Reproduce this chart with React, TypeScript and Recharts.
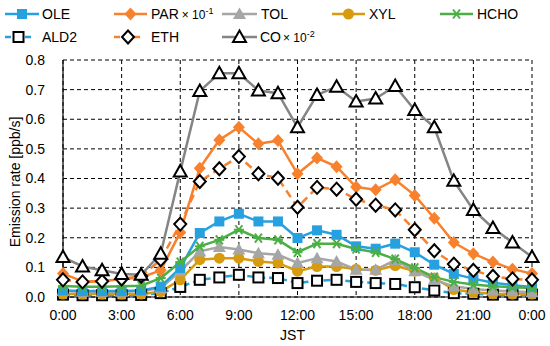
import { CartesianGrid, Line, LineChart, XAxis, YAxis } from "recharts";

// hour of day (JST), 24 = midnight of the next day
const HOURS = [0, 1, 2, 3, 4, 5, 6, 7, 8, 9, 10, 11, 12, 13, 14, 15, 16, 17, 18, 19, 20, 21, 22, 23, 24];
const X_TICKS = [0, 3, 6, 9, 12, 15, 18, 21, 24];
const Y_TICKS = [0, 0.1, 0.2, 0.3, 0.4, 0.5, 0.6, 0.7, 0.8];

// emission rates [ppb/s]; PAR is scaled by 1e-1, CO by 1e-2
const OLE = [0.022, 0.02, 0.02, 0.02, 0.022, 0.035, 0.098, 0.216, 0.255, 0.281, 0.255, 0.255, 0.199, 0.225, 0.21, 0.171, 0.163, 0.18, 0.151, 0.109, 0.078, 0.062, 0.048, 0.04, 0.034];
const PAR = [0.079, 0.053, 0.053, 0.061, 0.066, 0.09, 0.218, 0.435, 0.53, 0.573, 0.517, 0.528, 0.416, 0.469, 0.44, 0.371, 0.362, 0.396, 0.343, 0.266, 0.184, 0.146, 0.118, 0.094, 0.079];
const TOL = [0.02, 0.018, 0.018, 0.018, 0.02, 0.03, 0.087, 0.154, 0.169, 0.16, 0.148, 0.143, 0.115, 0.131, 0.12, 0.092, 0.092, 0.124, 0.087, 0.058, 0.036, 0.027, 0.022, 0.019, 0.016];
const XYL = [0.01, 0.01, 0.01, 0.01, 0.01, 0.018, 0.058, 0.126, 0.131, 0.131, 0.12, 0.115, 0.087, 0.103, 0.103, 0.094, 0.09, 0.106, 0.087, 0.064, 0.025, 0.016, 0.011, 0.01, 0.01];
const HCHO = [0.037, 0.035, 0.035, 0.036, 0.038, 0.064, 0.118, 0.171, 0.193, 0.227, 0.199, 0.193, 0.151, 0.18, 0.18, 0.162, 0.151, 0.128, 0.098, 0.067, 0.051, 0.042, 0.036, 0.033, 0.03];
const ALD2 = [0.008, 0.006, 0.006, 0.006, 0.007, 0.013, 0.034, 0.058, 0.066, 0.075, 0.066, 0.064, 0.047, 0.055, 0.058, 0.051, 0.047, 0.044, 0.033, 0.022, 0.013, 0.011, 0.008, 0.008, 0.008];
const ETH = [0.058, 0.051, 0.053, 0.061, 0.07, 0.126, 0.246, 0.39, 0.433, 0.474, 0.416, 0.401, 0.303, 0.37, 0.364, 0.33, 0.31, 0.294, 0.227, 0.156, 0.111, 0.09, 0.07, 0.061, 0.058];
const CO = [0.135, 0.103, 0.09, 0.078, 0.075, 0.146, 0.424, 0.695, 0.755, 0.755, 0.697, 0.688, 0.573, 0.682, 0.71, 0.66, 0.67, 0.712, 0.631, 0.573, 0.392, 0.294, 0.233, 0.184, 0.135];

const BLUE = "#27a0df";
const ORANGE = "#f7812c";
const GRAY = "#a6a6a6";
const GOLD = "#d69b0e";
const GREEN = "#4caf45";
const DARK_GRAY = "#858585";
const FONT = '"Liberation Sans", Arial, sans-serif';

type Shape = "square" | "diamond" | "triangle" | "circle" | "star";

interface Series {
  key: string;
  values: number[];
  color: string;
  dash?: string;
  shape: Shape;
  fill: string;
  stroke: string;
}

// draw order (later = on top)
const SERIES: Series[] = [
  { key: "ALD2", values: ALD2, color: BLUE, dash: "7 4", shape: "square", fill: "#fff", stroke: "#000" },
  { key: "XYL", values: XYL, color: GOLD, shape: "circle", fill: GOLD, stroke: "none" },
  { key: "TOL", values: TOL, color: GRAY, shape: "triangle", fill: GRAY, stroke: "none" },
  { key: "OLE", values: OLE, color: BLUE, shape: "square", fill: BLUE, stroke: "none" },
  { key: "HCHO", values: HCHO, color: GREEN, shape: "star", fill: GREEN, stroke: GREEN },
  { key: "PAR", values: PAR, color: ORANGE, shape: "diamond", fill: ORANGE, stroke: "none" },
  { key: "ETH", values: ETH, color: ORANGE, dash: "8 5", shape: "diamond", fill: "#fff", stroke: "#000" },
  { key: "CO", values: CO, color: DARK_GRAY, shape: "triangle", fill: "#fff", stroke: "#000" },
];

const data = HOURS.map((h, i) => {
  const row: Record<string, number> = { h };
  SERIES.forEach((s) => (row[s.key] = s.values[i]));
  return row;
});

function Marker({ shape, cx, cy, fill, stroke }: { shape: Shape; cx: number; cy: number; fill: string; stroke: string }) {
  const sw = stroke === "none" ? 0 : 2;
  switch (shape) {
    case "square":
      return <rect x={cx - 5} y={cy - 5} width={10} height={10} fill={fill} stroke={stroke} strokeWidth={sw} />;
    case "diamond":
      return (
        <polygon
          points={`${cx},${cy - 6.5} ${cx + 6},${cy} ${cx},${cy + 6.5} ${cx - 6},${cy}`}
          fill={fill}
          stroke={stroke}
          strokeWidth={sw}
        />
      );
    case "triangle":
      return (
        <polygon
          points={`${cx},${cy - 6.5} ${cx + 6.5},${cy + 5} ${cx - 6.5},${cy + 5}`}
          fill={fill}
          stroke={stroke}
          strokeWidth={sw}
        />
      );
    case "circle":
      return <circle cx={cx} cy={cy} r={5.5} fill={fill} />;
    case "star":
      return (
        <g stroke={stroke} strokeWidth={2}>
          <line x1={cx - 5} y1={cy} x2={cx + 5} y2={cy} />
          <line x1={cx - 3.5} y1={cy - 4.5} x2={cx + 3.5} y2={cy + 4.5} />
          <line x1={cx - 3.5} y1={cy + 4.5} x2={cx + 3.5} y2={cy - 4.5} />
        </g>
      );
  }
}

// legend entries: [series key, row y, line start, line end, label x]
const LEGEND: [string, number, number, number, number][] = [
  ["OLE", 14, 5, 39, 42],
  ["PAR", 14, 114, 147, 151],
  ["TOL", 14, 222, 257, 261],
  ["XYL", 14, 332, 365, 369],
  ["HCHO", 14, 440, 473, 477],
  ["ALD2", 37, 5, 32, 42],
  ["ETH", 37, 114, 142, 151],
  ["CO", 37, 222, 257, 260],
];

function Legend() {
  return (
    <svg width={550} height={50} style={{ position: "absolute", left: 0, top: 0 }} fontFamily={FONT}>
      {LEGEND.map(([key, y, x1, x2, tx]) => {
        const s = SERIES.find((d) => d.key === key)!;
        return (
          <g key={key}>
            <line x1={x1} y1={y} x2={x2} y2={y} stroke={s.color} strokeWidth={2.5} strokeDasharray={s.dash ? "6 4" : undefined} />
            <Marker shape={s.shape} cx={(x1 + x2) / 2} cy={y} fill={s.fill} stroke={s.stroke} />
            <text x={tx} y={y + 5} fontSize={14} fill="#000">
              {key}
              {key === "PAR" && (
                <>
                  <tspan fontSize={12} dx={3}>× 10</tspan>
                  <tspan fontSize={9} dy={-5}>-1</tspan>
                </>
              )}
              {key === "CO" && (
                <>
                  <tspan fontSize={12} dx={2}>× 10</tspan>
                  <tspan fontSize={9} dy={-5}>-2</tspan>
                </>
              )}
            </text>
          </g>
        );
      })}
    </svg>
  );
}

const tick = { fontSize: 14, fill: "#000", fontFamily: FONT };

export default function App() {
  return (
    <div style={{ position: "absolute", left: 0, top: 0, width: 550, height: 346, background: "#fff" }}>
      <LineChart width={550} height={346} data={data} margin={{ top: 60, right: 18, left: 0, bottom: 0 }}>
        <CartesianGrid stroke="#000" strokeDasharray="4 3" strokeWidth={1} />
        <XAxis
          dataKey="h"
          type="number"
          domain={[0, 24]}
          ticks={X_TICKS}
          tickFormatter={(h: number) => `${h % 24}:00`}
          tick={tick}
          tickLine={false}
          tickSize={0}
          tickMargin={13}
          axisLine={{ stroke: "#000", strokeWidth: 1.2 }}
          height={49}
          label={{ value: "JST", position: "insideBottom", offset: 6, dx: -5, style: { fontSize: 14, fill: "#000", fontFamily: FONT } }}
        />
        <XAxis xAxisId="top" orientation="top" type="number" domain={[0, 24]} height={0} tick={false} tickLine={false} axisLine={{ stroke: "#000", strokeWidth: 1.2 }} />
        <YAxis
          type="number"
          domain={[0, 0.8]}
          ticks={Y_TICKS}
          tickFormatter={(v: number) => v.toFixed(1)}
          tick={tick}
          tickLine={false}
          tickSize={0}
          tickMargin={18}
          width={63}
          axisLine={{ stroke: "#000", strokeWidth: 1.2 }}
        />
        <YAxis yAxisId="right" orientation="right" width={0} tick={false} tickLine={false} axisLine={{ stroke: "#000", strokeWidth: 1.2 }} />
        {SERIES.map((s) => (
          <Line
            key={s.key}
            dataKey={s.key}
            type="linear"
            stroke={s.color}
            strokeWidth={2.5}
            strokeDasharray={s.dash}
            isAnimationActive={false}
            dot={(p: any) => <Marker key={`${s.key}-${p.index}`} shape={s.shape} cx={p.cx} cy={p.cy} fill={s.fill} stroke={s.stroke} />}
          />
        ))}
      </LineChart>
      <Legend />
      <svg width={30} height={346} style={{ position: "absolute", left: 0, top: 0 }}>
        <text transform="translate(15,182) rotate(-90)" textAnchor="middle" dominantBaseline="central" fontSize={14} fontFamily={FONT} fill="#000">
          Emission rate [ppb/s]
        </text>
      </svg>
    </div>
  );
}
